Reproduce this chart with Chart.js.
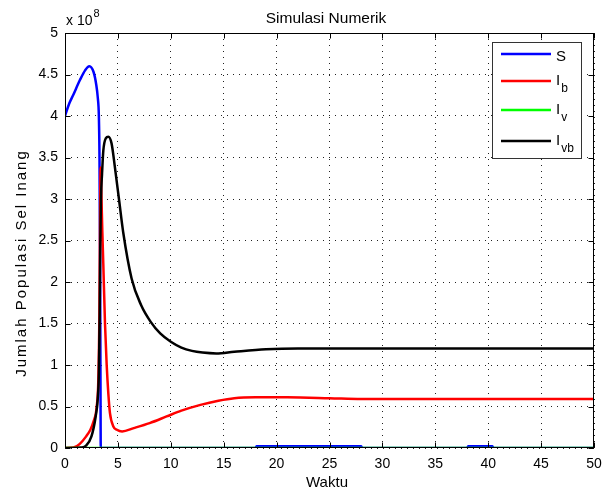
<!DOCTYPE html>
<html lang="id">
<head>
<meta charset="utf-8">
<title>Simulasi Numerik</title>
<script src="https://cdn.jsdelivr.net/npm/chart.js"></script>
<style>
  html, body { margin: 0; padding: 0; background: #fff; }
  #wrap { width: 602px; height: 498px; }
</style>
</head>
<body>
<div id="wrap"><canvas id="simChart" width="602" height="498"></canvas></div>
<script>
// populasi dalam satuan 10^8 sel
const tS  = [0, 0.4, 0.8, 1.4, 1.9, 2.3, 2.7, 2.95, 3.1, 3.2, 3.26, 3.31, 3.35, 3.38, 18, 18.1, 28, 28.1, 38, 38.1, 40.4, 40.5, 50];
const valS = [4.0, 4.15, 4.26, 4.43, 4.55, 4.60, 4.53, 4.38, 4.22, 4.0, 3.5, 2.4, 1.0, 0, 0, 0.02, 0.02, 0, 0, 0.02, 0.02, 0, 0];

const tIb  = [0, 0.8, 1.4, 2.0, 2.4, 2.7, 3.0, 3.15, 3.25, 3.3, 3.37, 3.45, 3.53, 3.62, 3.78, 3.94, 4.1, 4.25, 4.57, 4.9, 5.4, 6.5, 8, 9.6, 11, 12.8, 14.5, 16, 18, 21, 25, 28, 50];
const valIb = [0, 0.005, 0.05, 0.14, 0.22, 0.32, 0.5, 0.82, 1.6, 2.5, 3.38, 3.0, 2.6, 2.22, 1.5, 1.0, 0.65, 0.42, 0.26, 0.22, 0.2, 0.24, 0.3, 0.38, 0.45, 0.52, 0.57, 0.60, 0.61, 0.61, 0.60, 0.59, 0.59];

const tIv  = [0, 50];
const valIv = [0, 0];

const tIvb  = [0, 1.0, 1.5, 2.0, 2.5, 2.9, 3.1, 3.2, 3.28, 3.33, 3.4, 3.5, 3.62, 3.85, 4.1, 4.4, 4.7, 5.1, 5.5, 6.3, 7.2, 8.1, 9, 10, 11, 12, 13, 14.3, 16, 19, 22, 50];
const valIvb = [0, 0, 0.005, 0.03, 0.14, 0.38, 0.6, 0.9, 1.6, 2.4, 3.0, 3.3, 3.58, 3.73, 3.75, 3.67, 3.4, 3.0, 2.6, 2.04, 1.72, 1.52, 1.38, 1.28, 1.21, 1.17, 1.15, 1.14, 1.16, 1.19, 1.2, 1.2];

const xTickLabels = ['0', '5', '10', '15', '20', '25', '30', '35', '40', '45', '50'];
const yTickLabels = ['0', '0.5', '1', '1.5', '2', '2.5', '3', '3.5', '4', '4.5', '5'];

const FONT = '"Liberation Sans", Arial, Helvetica, sans-serif';

function pts(ts, vs) {
  return ts.map((t, i) => ({ x: t, y: vs[i] }));
}

function series(label, ts, vs, color, order) {
  return {
    label: label,
    data: pts(ts, vs),
    borderColor: color,
    backgroundColor: color,
    borderWidth: 2.5,
    pointRadius: 0,
    fill: false,
    cubicInterpolationMode: 'monotone',
    clip: 0,
    order: order
  };
}

// frame, inward ticks, legend and labels in the old matlab style
const matlabFrame = {
  id: 'matlabFrame',
  afterDatasetsDraw(chart) {
    const { ctx, chartArea: a, scales } = chart;
    const L = Math.round(a.left) + 0.5, R = Math.round(a.right) - 0.5;
    const T = Math.round(a.top) + 0.5, B = Math.round(a.bottom) - 0.5;
    ctx.save();
    ctx.strokeStyle = '#000';
    ctx.lineWidth = 1;
    ctx.beginPath();
    scales.x.ticks.forEach(t => {
      const px = Math.round(scales.x.getPixelForValue(t.value)) + 0.5;
      ctx.moveTo(px, B); ctx.lineTo(px, B - 5);
      ctx.moveTo(px, T); ctx.lineTo(px, T + 5);
    });
    scales.y.ticks.forEach(t => {
      const py = Math.round(scales.y.getPixelForValue(t.value)) + 0.5;
      ctx.moveTo(L, py); ctx.lineTo(L + 5, py);
      ctx.moveTo(R, py); ctx.lineTo(R - 5, py);
    });
    ctx.stroke();
    ctx.strokeRect(L, T, R - L, B - T);

    // legend
    ctx.fillStyle = '#fff';
    ctx.fillRect(492, 42, 89, 116);
    ctx.strokeStyle = '#333';
    ctx.strokeRect(492.5, 42.5, 89, 116);
    const entries = [
      { main: 'S', sub: '', color: '#0000ff', y: 54 },
      { main: 'I', sub: 'b', color: '#ff0000', y: 81 },
      { main: 'I', sub: 'v', color: '#00ff00', y: 110 },
      { main: 'I', sub: 'vb', color: '#000000', y: 141 }
    ];
    entries.forEach(e => {
      ctx.strokeStyle = e.color;
      ctx.lineWidth = 2.5;
      ctx.beginPath();
      ctx.moveTo(501, e.y); ctx.lineTo(551, e.y);
      ctx.stroke();
      ctx.fillStyle = '#000';
      ctx.textAlign = 'left';
      ctx.textBaseline = 'alphabetic';
      ctx.font = '15px ' + FONT;
      if (!e.sub) {
        ctx.fillText(e.main, 556, e.y + 7);
      } else {
        ctx.fillText(e.main, 556, e.y + 4);
        const w = ctx.measureText(e.main).width;
        ctx.font = '12px ' + FONT;
        ctx.fillText(e.sub, 556 + w + 1, e.y + 11);
      }
    });
    ctx.restore();
  },
  afterDraw(chart) {
    const { ctx } = chart;
    ctx.save();
    ctx.fillStyle = '#000';
    ctx.textBaseline = 'alphabetic';

    ctx.textAlign = 'center';
    ctx.font = '15.5px ' + FONT;
    ctx.fillText('Simulasi Numerik', 326, 23);

    ctx.font = '15px ' + FONT;
    ctx.fillText('Waktu', 327, 487);

    ctx.textAlign = 'left';
    ctx.font = '14px ' + FONT;
    ctx.fillText('x 10', 66, 25);
    const w = ctx.measureText('x 10').width;
    ctx.font = '11px ' + FONT;
    ctx.fillText('8', 66 + w + 1, 17);

    ctx.translate(26, 263);
    ctx.rotate(-Math.PI / 2);
    ctx.textAlign = 'center';
    ctx.font = '15px ' + FONT;
    ctx.letterSpacing = '2px';
    ctx.fillText('Jumlah Populasi Sel Inang', 0, 0);
    ctx.restore();
  }
};

const ctx = document.getElementById('simChart').getContext('2d');
new Chart(ctx, {
  type: 'line',
  data: {
    datasets: [
      series('S', tS, valS, '#0000ff', 3),
      series('Ib', tIb, valIb, '#ff0000', 2),
      series('Iv', tIv, valIv, '#00ff00', 1),
      series('Ivb', tIvb, valIvb, '#000000', 0)
    ]
  },
  options: {
    responsive: false,
    animation: false,
    devicePixelRatio: 1,
    layout: { padding: { left: 0, right: 8, top: 33, bottom: 0 } },
    plugins: {
      legend: { display: false },
      title: { display: false },
      tooltip: { enabled: false }
    },
    scales: {
      x: {
        type: 'linear',
        min: 0,
        max: 50,
        grid: { color: '#222', lineWidth: 1, drawTicks: false },
        border: { display: false, dash: [1, 5] },
        ticks: {
          stepSize: 5,
          padding: 8,
          color: '#000',
          font: { family: FONT, size: 14 },
          maxRotation: 0,
          callback: (v, i) => xTickLabels[i]
        },
        afterFit(scale) {
          scale.height = 50;
          scale.paddingLeft = 0;
          scale.paddingRight = 0;
        }
      },
      y: {
        type: 'linear',
        min: 0,
        max: 5,
        grid: { color: '#222', lineWidth: 1, drawTicks: false },
        border: { display: false, dash: [1, 5] },
        ticks: {
          stepSize: 0.5,
          padding: 7,
          color: '#000',
          font: { family: FONT, size: 14 },
          callback: (v, i) => yTickLabels[i]
        },
        afterFit(scale) {
          scale.width = 65;
          scale.paddingTop = 0;
          scale.paddingBottom = 0;
        }
      }
    }
  },
  plugins: [matlabFrame]
});
</script>
</body>
</html>
